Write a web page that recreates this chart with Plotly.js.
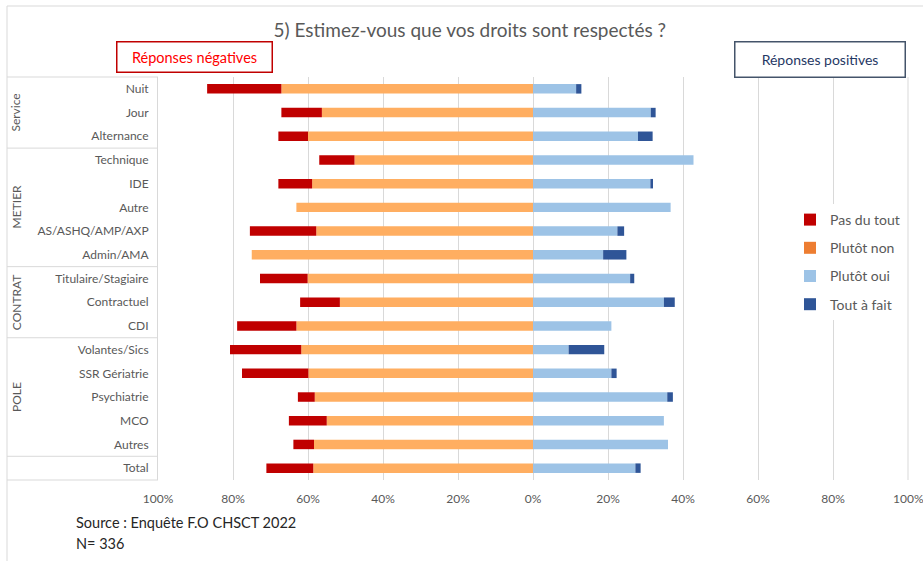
<!DOCTYPE html>
<html>
<head>
<meta charset="utf-8">
<script src="https://cdn.plot.ly/plotly-3.0.1.min.js"></script>
<style>html,body{margin:0;padding:0;background:#fff;}#chart{width:923px;height:561px;}</style>
</head>
<body>
<div id="chart"></div>
<script>
// Categories (top to bottom)
const categories = ["Nuit","Jour","Alternance","Technique","IDE","Autre","AS/ASHQ/AMP/AXP","Admin/AMA",
  "Titulaire/Stagiaire","Contractuel","CDI","Volantes/Sics","SSR Gériatrie","Psychiatrie","MCO","Autres","Total"];
// Group labels and the category at their centre
const groupNames = ["Service","METIER","CONTRAT","POLE"];
const groupCenters = ["Jour","Autre","Contractuel","Psychiatrie"];
// Last category of each group (separator lines drawn after them)
const groupEnds = ["Alternance","Admin/AMA","CDI","Autres"];

// Values in % (negative answers drawn to the left)
const pasDuTout  = [19.8,10.8,7.9,9.4,9.0,0,17.7,0,12.7,10.6,15.8,19.0,17.7,4.5,10.1,5.5,12.5];
const plutotNon  = [67.1,56.3,60.0,47.6,58.9,63.1,57.8,75.0,60.1,51.5,63.1,61.8,59.9,58.2,55.0,58.4,58.6];
const plutotOui  = [11.5,31.4,28.0,42.8,31.3,36.7,22.5,18.7,25.9,34.9,20.9,9.5,20.9,35.8,34.9,36.0,27.3];
const toutAFait  = [1.4,1.3,3.9,0,0.7,0,1.8,6.2,1.1,2.9,0,9.5,1.4,1.5,0,0,1.4];

const tickVals = [-100,-80,-60,-40,-20,0,20,40,60,80,100];
const tickText = ["100%","80%","60%","40%","20%","0%","20%","40%","60%","80%","100%"];

const FONT = "Lato, 'Open Sans', sans-serif";
const GRAY = "#595959";

// pixel helpers for plot area (l=158, r=908, t=77, b=480)
const PL = 158, PR = 908, PT = 77, PB = 480;
const px = v => (v - PL) / (PR - PL);
const py = v => (PB - v) / (PB - PT);

const traces = [
  {type:"bar", orientation:"h", name:"Plutôt non", y:categories, x:plutotNon.map(v=>-v),
   marker:{color:"#FFAE61"}, width:0.4, showlegend:false, legendgroup:"b", hoverinfo:"name+text", text:plutotNon.map(v=>v+"%"), textposition:"none"},
  {type:"bar", orientation:"h", name:"Pas du tout", y:categories, x:pasDuTout.map(v=>-v),
   marker:{color:"#C00000"}, width:0.4, legendrank:1, legendgroup:"a", hoverinfo:"name+text", text:pasDuTout.map(v=>v+"%"), textposition:"none"},
  {type:"bar", orientation:"h", name:"Plutôt non", y:[null], x:[null],
   marker:{color:"#ED7D31"}, legendrank:2, legendgroup:"b", hoverinfo:"skip"},
  {type:"bar", orientation:"h", name:"Plutôt oui", y:categories, x:plutotOui,
   marker:{color:"#9DC3E6"}, width:0.4, legendrank:3, legendgroup:"c", hoverinfo:"name+x"},
  {type:"bar", orientation:"h", name:"Tout à fait", y:categories, x:toutAFait,
   marker:{color:"#2F5597"}, width:0.4, legendrank:4, legendgroup:"d", hoverinfo:"name+x"}
];

const shapes = [
  // outer frame
  {type:"rect", xref:"paper", yref:"paper", x0:px(7), x1:px(935), y0:py(6), y1:py(575),
   line:{color:"#D9D9D9", width:1}, layer:"below"},
  // right-most gridline (100%)
  {type:"line", xref:"paper", yref:"paper", x0:1, x1:1, y0:0, y1:1, line:{color:"#D9D9D9", width:1}, layer:"below"},
  // table top and bottom
  {type:"line", xref:"paper", yref:"paper", x0:px(7), x1:0, y0:1, y1:1, line:{color:"#D9D9D9", width:1}},
  {type:"line", xref:"paper", yref:"paper", x0:px(7), x1:0, y0:0, y1:0, line:{color:"#D9D9D9", width:1}}
];
groupEnds.forEach(c => {
  const i = categories.indexOf(c);
  shapes.push({type:"line", xref:"paper", yref:"y", x0:px(7), x1:0, y0:i+0.5, y1:i+0.5,
    line:{color:"#D9D9D9", width:1}});
});

const annotations = [
  {xref:"paper", yref:"paper", x:px(194), y:py(57), text:"Réponses négatives", showarrow:false,
   font:{family:FONT, size:14.5, color:"#FF0000"}, bordercolor:"#C00000", borderwidth:1.5, borderpad:0,
   width:154, height:29, bgcolor:"#fff", xanchor:"center", yanchor:"middle"},
  {xref:"paper", yref:"paper", x:px(820), y:py(60), text:"Réponses positives", showarrow:false,
   font:{family:FONT, size:14, color:"#1F3864"}, bordercolor:"#44546A", borderwidth:1.5, borderpad:0,
   width:169, height:34, bgcolor:"#fff", xanchor:"center", yanchor:"middle"},
  {xref:"paper", yref:"paper", x:px(74), y:py(522), text:"Source : Enquête F.O CHSCT 2022", showarrow:false,
   font:{family:FONT, size:14.5, color:"#262626"}, xanchor:"left", yanchor:"middle"},
  {xref:"paper", yref:"paper", x:px(74), y:py(543), text:"N= 336", showarrow:false,
   font:{family:FONT, size:14.5, color:"#262626"}, xanchor:"left", yanchor:"middle"},
  // 100% label at the right end of the axis
  {xref:"paper", yref:"paper", x:1, y:py(498), text:tickText[tickText.length-1], showarrow:false,
   font:{family:FONT, size:12, color:GRAY}, xanchor:"center", yanchor:"middle"}
];
groupNames.forEach((g, k) => {
  annotations.push({xref:"paper", yref:"y", x:px(16), y:groupCenters[k], text:g, textangle:-90,
    showarrow:false, font:{family:FONT, size:12, color:GRAY}, xanchor:"center", yanchor:"middle"});
});

const layout = {
  width:923, height:561,
  margin:{l:PL, r:923-PR, t:PT, b:561-PB, pad:0},
  paper_bgcolor:"#fff", plot_bgcolor:"#fff",
  font:{family:FONT, color:GRAY},
  title:{text:"5) Estimez-vous que vos droits sont respectés ?", x:0.509, xref:"container", xanchor:"center",
         y:1-30/561, yref:"container", yanchor:"middle", font:{family:FONT, size:19, color:GRAY}},
  barmode:"relative",
  bargap:0.6,
  xaxis:{range:[-100,100], tickvals:tickVals.slice(0,-1), ticktext:tickText.slice(0,-1), showgrid:true, gridcolor:"#D9D9D9",
         gridwidth:1, zeroline:false, showline:false, ticks:"", ticklabelstandoff:10,
         tickfont:{family:FONT, size:12, color:GRAY}, fixedrange:true},
  yaxis:{type:"category", categoryorder:"array", categoryarray:categories, autorange:"reversed",
         showgrid:false, zeroline:false, showline:true, linecolor:"#D9D9D9", linewidth:1, ticks:"",
         ticklabelstandoff:6, tickfont:{family:FONT, size:12, color:GRAY}, fixedrange:true},
  legend:{x:px(790), y:py(204), xanchor:"left", yanchor:"top", bgcolor:"#fff",
          font:{family:FONT, size:14, color:GRAY}, tracegroupgap:7, traceorder:"grouped"},
  shapes:shapes,
  annotations:annotations
};

Plotly.newPlot("chart", traces, layout, {displayModeBar:false, staticPlot:true});
</script>
</body>
</html>
